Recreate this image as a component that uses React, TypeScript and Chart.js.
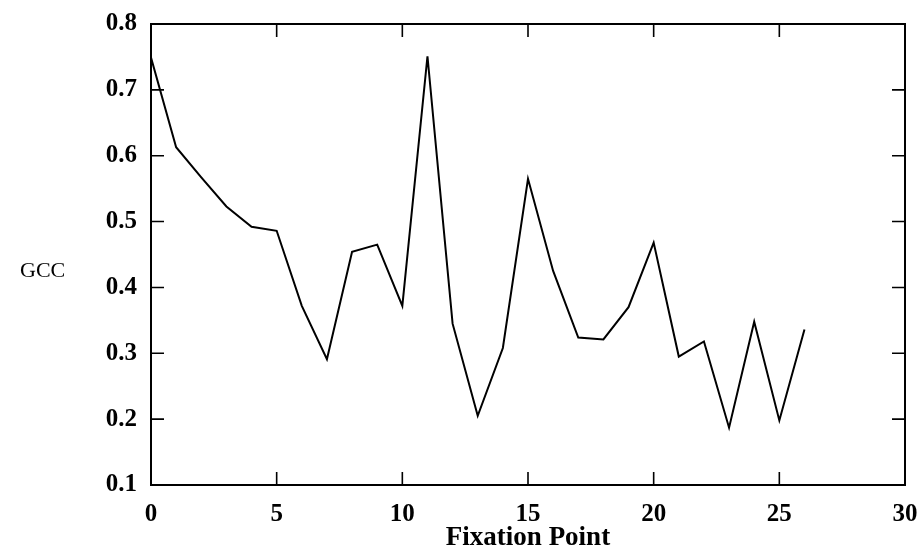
import { useEffect, useRef } from "react";
import { Chart, registerables } from "chart.js";

Chart.register(...registerables);

const fixationPoints = [0, 1, 2, 3, 4, 5, 6, 7, 8, 9, 10, 11, 12, 13, 14, 15, 16, 17, 18, 19, 20, 21, 22, 23, 24, 25, 26];
const gccValues = [0.749, 0.613, 0.567, 0.523, 0.492, 0.486, 0.372, 0.291, 0.454, 0.465, 0.372, 0.751, 0.345, 0.205, 0.308, 0.565, 0.425, 0.324, 0.321, 0.37, 0.468, 0.295, 0.318, 0.187, 0.348, 0.198, 0.336];
const xTickValues = [0, 5, 10, 15, 20, 25, 30];
const yTickValues = [0.1, 0.2, 0.3, 0.4, 0.5, 0.6, 0.7, 0.8];
const xTitle = "Fixation Point";
const yTitle = "GCC";

const SERIF = "'Liberation Serif', 'DejaVu Serif', serif";

const framePlugin = {
  id: "frame",
  afterDraw(chart: any) {
    const { ctx, chartArea } = chart;
    const { left, right, top, bottom } = chartArea;
    const xs = chart.scales.x;
    const ys = chart.scales.y;
    ctx.save();
    ctx.strokeStyle = "#000";
    ctx.lineWidth = 2;
    ctx.strokeRect(left, top, right - left, bottom - top);
    ctx.lineWidth = 1.6;
    const len = 13;
    ctx.beginPath();
    xTickValues.slice(1, -1).forEach((v) => {
      const px = xs.getPixelForValue(v);
      ctx.moveTo(px, bottom);
      ctx.lineTo(px, bottom - len);
      ctx.moveTo(px, top);
      ctx.lineTo(px, top + len);
    });
    yTickValues.slice(1, -1).forEach((v) => {
      const py = ys.getPixelForValue(v);
      ctx.moveTo(left, py);
      ctx.lineTo(left + len, py);
      ctx.moveTo(right, py);
      ctx.lineTo(right - len, py);
    });
    ctx.stroke();
    ctx.fillStyle = "#000";
    ctx.font = `22px ${SERIF}`;
    ctx.textAlign = "left";
    ctx.textBaseline = "middle";
    ctx.fillText(yTitle, 20, ys.getPixelForValue(0.425));
    ctx.restore();
  },
};

export default function App() {
  const ref = useRef<HTMLCanvasElement | null>(null);
  useEffect(() => {
    document.body.style.margin = "0";
    const canvas = ref.current;
    if (!canvas) return;
    const chart = new Chart(canvas, {
      type: "line",
      data: {
        datasets: [
          {
            data: fixationPoints.map((x, i) => ({ x, y: gccValues[i] })),
            borderColor: "#000",
            borderWidth: 2,
            pointRadius: 0,
            tension: 0,
            fill: false,
          },
        ],
      },
      options: {
        responsive: false,
        animation: false,
        devicePixelRatio: 1,
        layout: { padding: { top: 24, right: 15, left: 0, bottom: 0 } },
        plugins: { legend: { display: false }, tooltip: { enabled: false } },
        scales: {
          x: {
            type: "linear",
            min: 0,
            max: 30,
            afterBuildTicks: (s: any) => {
              s.ticks = xTickValues.map((v) => ({ value: v }));
            },
            afterFit: (s: any) => {
              s.height = 69;
              s.paddingLeft = 0;
              s.paddingRight = 0;
            },
            grid: { display: false, drawTicks: false },
            border: { display: false },
            ticks: {
              color: "#000",
              padding: 15,
              maxRotation: 0,
              font: { family: SERIF, size: 25, weight: "bold" },
              callback: (v: any) => String(v),
            },
            title: {
              display: true,
              text: xTitle,
              color: "#000",
              font: { family: SERIF, size: 27, weight: "bold" },
              padding: { top: 0, bottom: 0 },
            },
          },
          y: {
            type: "linear",
            min: 0.1,
            max: 0.8,
            afterBuildTicks: (s: any) => {
              s.ticks = yTickValues.map((v) => ({ value: v }));
            },
            afterFit: (s: any) => {
              s.width = 151;
              s.paddingTop = 0;
              s.paddingBottom = 0;
            },
            grid: { display: false, drawTicks: false },
            border: { display: false },
            ticks: {
              color: "#000",
              padding: 14,
              font: { family: SERIF, size: 25, weight: "bold" },
              callback: (v: any) => Number(v).toFixed(1),
            },
          },
        },
      },
      plugins: [framePlugin],
    });
    return () => chart.destroy();
  }, []);
  return (
    <div style={{ width: 920, height: 554, background: "#fff" }}>
      <canvas ref={ref} width={920} height={554} style={{ display: "block" }} />
    </div>
  );
}
